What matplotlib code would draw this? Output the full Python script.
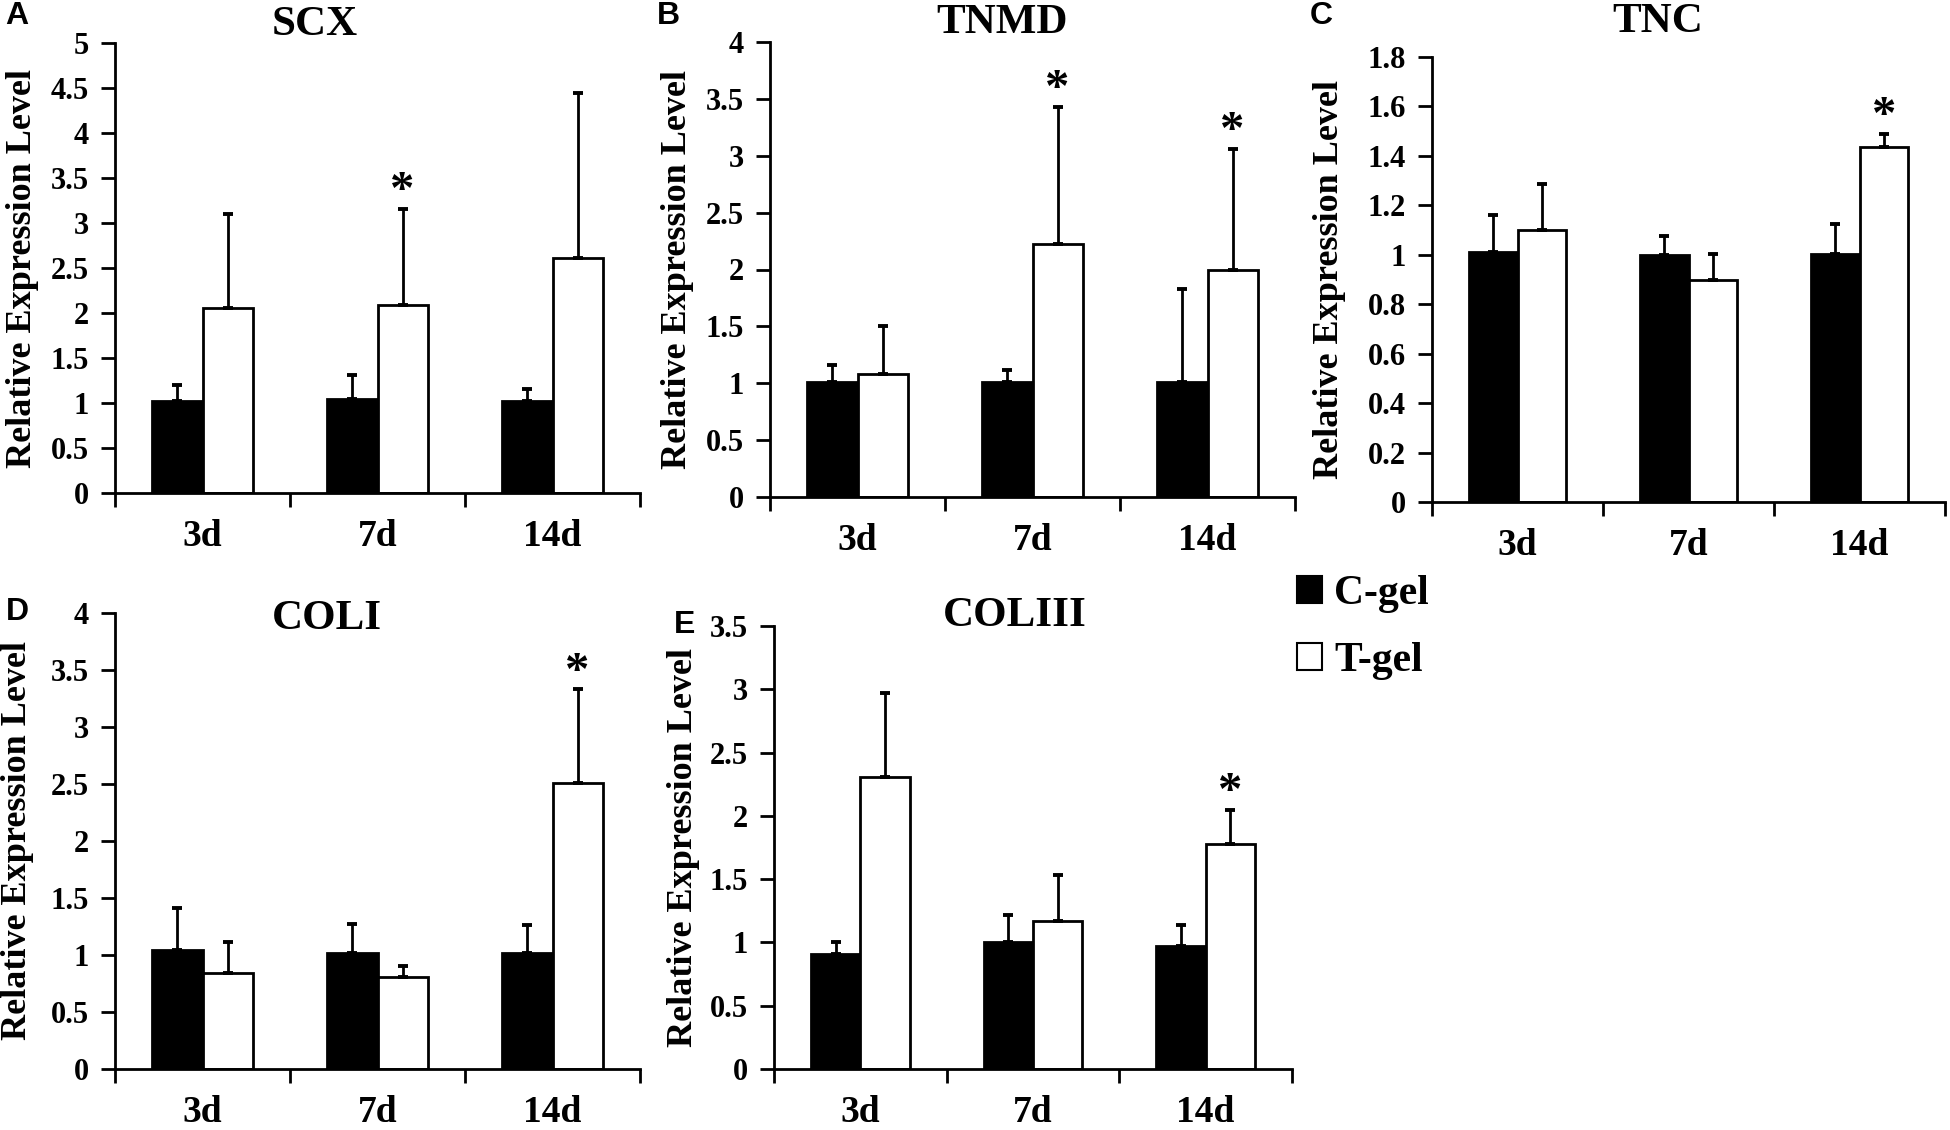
import numpy as np
import matplotlib
matplotlib.use("Agg")
import matplotlib.pyplot as plt
from matplotlib.patches import Patch
from matplotlib.ticker import FuncFormatter

plt.rcParams['font.family'] = ['Liberation Serif', 'DejaVu Serif']
plt.rcParams['font.weight'] = 'bold'

days = ['3d', '7d', '14d']
groups = ['C-gel', 'T-gel']

# values (mean, upper error)
scx_c = [1.02, 1.04, 1.02]
scx_c_err = [0.18, 0.27, 0.14]
scx_t = [2.05, 2.09, 2.61]
scx_t_err = [1.05, 1.07, 1.83]
scx_star = [False, True, False]

tnmd_c = [1.01, 1.01, 1.01]
tnmd_c_err = [0.15, 0.11, 0.82]
tnmd_t = [1.08, 2.22, 2.00]
tnmd_t_err = [0.42, 1.21, 1.06]
tnmd_star = [False, True, True]

tnc_c = [1.01, 1.00, 1.005]
tnc_c_err = [0.15, 0.075, 0.12]
tnc_t = [1.10, 0.90, 1.435]
tnc_t_err = [0.185, 0.105, 0.055]
tnc_star = [False, False, True]

coli_c = [1.045, 1.02, 1.02]
coli_c_err = [0.365, 0.25, 0.24]
coli_t = [0.84, 0.81, 2.51]
coli_t_err = [0.27, 0.09, 0.82]
coli_star = [False, False, True]

col3_c = [0.905, 1.00, 0.97]
col3_c_err = [0.10, 0.22, 0.17]
col3_t = [2.31, 1.17, 1.78]
col3_t_err = [0.66, 0.36, 0.27]
col3_star = [False, False, True]

W, H = 1950, 1130
fig = plt.figure(figsize=(19.5, 11.3), dpi=100)


def px(x, y):
    return x / W, 1 - y / H


# name, letter, data, ymax, ystep, axes box (left, top, right, bottom px), title xy, letter xy, ylabel x
panels = [
    ('SCX', 'A', (scx_c, scx_c_err, scx_t, scx_t_err, scx_star), 5, 0.5,
     (115, 43, 640, 493), (315, 25), (17, 16), 23),
    ('TNMD', 'B', (tnmd_c, tnmd_c_err, tnmd_t, tnmd_t_err, tnmd_star), 4, 0.5,
     (770, 42, 1295, 497), (1002, 23), (668, 16), 677),
    ('TNC', 'C', (tnc_c, tnc_c_err, tnc_t, tnc_t_err, tnc_star), 1.8, 0.2,
     (1432, 57, 1945, 502), (1658, 22), (1321, 16), 1329),
    ('COLI', 'D', (coli_c, coli_c_err, coli_t, coli_t_err, coli_star), 4, 0.5,
     (115, 613, 640, 1069), (327, 619), (17, 612), 18),
    ('COLIII', 'E', (col3_c, col3_c_err, col3_t, col3_t_err, col3_star), 3.5, 0.5,
     (774, 626, 1292, 1069), (1015, 616), (685, 625), 683),
]

bw = 0.286
x = np.arange(len(days))

for name, letter, data, ymax, ystep, box, tpos, lpos, ylx in panels:
    c, c_err, t, t_err, star = data
    l, tp, r, b = box
    ax = fig.add_axes([l / W, 1 - b / H, (r - l) / W, (b - tp) / H])
    ekw = dict(ecolor='black', elinewidth=2.0, capsize=3.5, capthick=2.8)
    ax.bar(x - bw / 2, c, bw, color='black', edgecolor='black', linewidth=2.0,
           yerr=[np.zeros(3), c_err], error_kw=ekw, zorder=2)
    ax.bar(x + bw / 2, t, bw, color='white', edgecolor='black', linewidth=2.0,
           yerr=[np.zeros(3), t_err], error_kw=ekw, zorder=2)
    for i in range(3):
        if star[i]:
            ax.annotate('*', (x[i] + bw / 2, t[i] + t_err[i]), xytext=(0, 12),
                        textcoords='offset points', ha='center', va='center',
                        fontsize=35, fontweight='bold')
    ax.set_xlim(-0.5, 2.5)
    ax.set_ylim(0, ymax)
    ax.set_yticks(np.arange(0, ymax + ystep / 2, ystep))
    ax.yaxis.set_major_formatter(FuncFormatter(lambda v, p: '%g' % round(v, 2)))
    ax.set_xticks(x)
    ax.set_xticklabels(days)
    ax.set_xticks(np.arange(-0.5, 3, 1), minor=True)
    ax.tick_params(axis='x', which='major', length=0, pad=19, labelsize=27)
    ax.tick_params(axis='x', which='minor', length=10, width=2, direction='out')
    ax.tick_params(axis='y', length=10, width=2, direction='out', pad=9, labelsize=22)
    for s in ['top', 'right']:
        ax.spines[s].set_visible(False)
    for s in ['left', 'bottom']:
        ax.spines[s].set_linewidth(2)
    ax.set_facecolor('none')

    fx, fy = px(*tpos)
    fig.text(fx, fy, name, ha='center', va='center', fontsize=31, fontweight='bold')
    fx, fy = px(*lpos)
    fig.text(fx, fy, letter, ha='center', va='center', fontsize=23, fontweight='bold',
             family=['Liberation Sans', 'DejaVu Sans'])
    fx, fy = px(ylx, (tp + b) / 2)
    fig.text(fx, fy, 'Relative Expression Level', rotation=90, ha='center', va='center',
             fontsize=26, fontweight='bold')

handles = [Patch(facecolor='black', edgecolor='black', linewidth=1.5),
           Patch(facecolor='white', edgecolor='black', linewidth=1.5)]
lx, ly = px(1297, 575)
fig.legend(handles, groups, loc='upper left', bbox_to_anchor=(lx, ly), frameon=False,
           fontsize=30, handlelength=0.6, handleheight=0.6, handletextpad=0.3,
           labelspacing=0.7, borderpad=0, borderaxespad=0)

fig.savefig('out.png', dpi=100)
